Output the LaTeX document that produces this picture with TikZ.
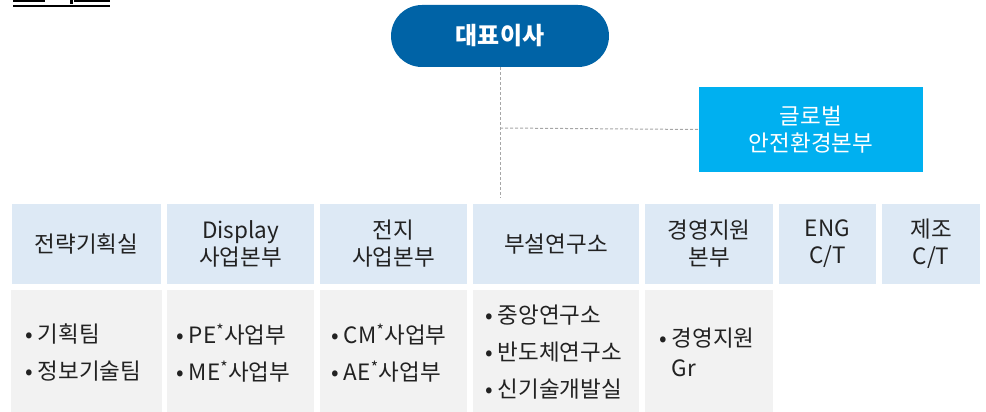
\documentclass[tikz,border=0pt]{standalone}
\usepackage{fontspec}
\setmainfont{Noto Sans CJK KR}
\definecolor{ceoblue}{HTML}{0063A6}
\definecolor{safeblue}{HTML}{00B0F0}
\definecolor{headblue}{HTML}{DDE9F5}
\definecolor{bodygray}{HTML}{F2F2F2}
\definecolor{dashgray}{HTML}{A6A6A6}
\definecolor{txt}{HTML}{222222}
\begin{document}
\begin{tikzpicture}[x=1pt,y=-1pt,
  head/.style={fill=headblue, inner sep=0pt, minimum height=80pt, align=center,
    text=txt, font=\fontsize{22.5}{27}\selectfont},
  body/.style={fill=bodygray, inner sep=0pt, minimum height=124pt},
  item/.style={anchor=west, align=left, inner sep=0pt, text=txt,
    font=\fontsize{22.5}{37}\selectfont},
  link/.style={draw=dashgray, line width=1pt, dash pattern=on 3pt off 2pt}]
\useasboundingbox (0,0) rectangle (986,412);
% cropped title fragment
\fill[black] (13,0) rectangle (45,2);
\fill[black] (69.5,0) rectangle (73,4);
\fill[black] (74,0) rectangle (110,2);
\fill[black] (13,4.7) rectangle (110,6.7);
% CEO
\node[fill=ceoblue, rounded corners=31pt, minimum width=218pt, minimum height=62pt,
  inner sep=0pt, text=white, font=\fontsize{24}{26}\selectfont\bfseries] (ceo) at (500,36) {대표이사};
% safety
\node[fill=safeblue, minimum width=224pt, minimum height=85pt, inner sep=0pt,
  text=white, align=center, font=\fontsize{22.5}{27}\selectfont] (safe) at (811,129.5) {글로벌\\안전환경본부};
\coordinate (trunk) at (500,198);
\coordinate (branch) at (500,128);
\draw[link] (ceo.south) -- (trunk);
\draw[link] (branch) -- (safe.west);
% header row
\node[head, minimum width=149pt] (h1) at (86.5,244) {전략기획실};
\node[head, minimum width=147pt] (h2) at (240.5,244) {Display\\사업본부};
\node[head, minimum width=147pt] (h3) at (393.5,244) {전지\\사업본부};
\node[head, minimum width=166pt] (h4) at (556,244) {부설연구소};
\node[head, minimum width=128pt] (h5) at (709,244) {경영지원\\본부};
\node[head, minimum width=97pt] (h6) at (827.5,244) {ENG\\C/T};
\node[head, minimum width=98pt] (h7) at (931,244) {제조\\C/T};
% body row
\node[body, minimum width=151pt] (b1) at (86.5,352) {};
\node[body, minimum width=147pt] (b2) at (240.5,352) {};
\node[body, minimum width=147pt] (b3) at (393.5,352) {};
\node[body, minimum width=166pt] (b4) at (556,352) {};
\node[body, minimum width=128pt] (b5) at (709,352) {};
\node[item] (t1) at (25,353) {• 기획팀\\• 정보기술팀};
\node[item] (t2) at (176,353) {• PE\textsuperscript{*}사업부\\• ME\textsuperscript{*}사업부};
\node[item] (t3) at (331,353) {• CM\textsuperscript{*}사업부\\• AE\textsuperscript{*}사업부};
\node[item] (t4) at (485,352) {• 중앙연구소\\• 반도체연구소\\• 신기술개발실};
\node[item, font=\fontsize{22.5}{30}\selectfont] (t5) at (659,352) {• 경영지원\\\phantom{• }Gr};
\end{tikzpicture}
\end{document}
